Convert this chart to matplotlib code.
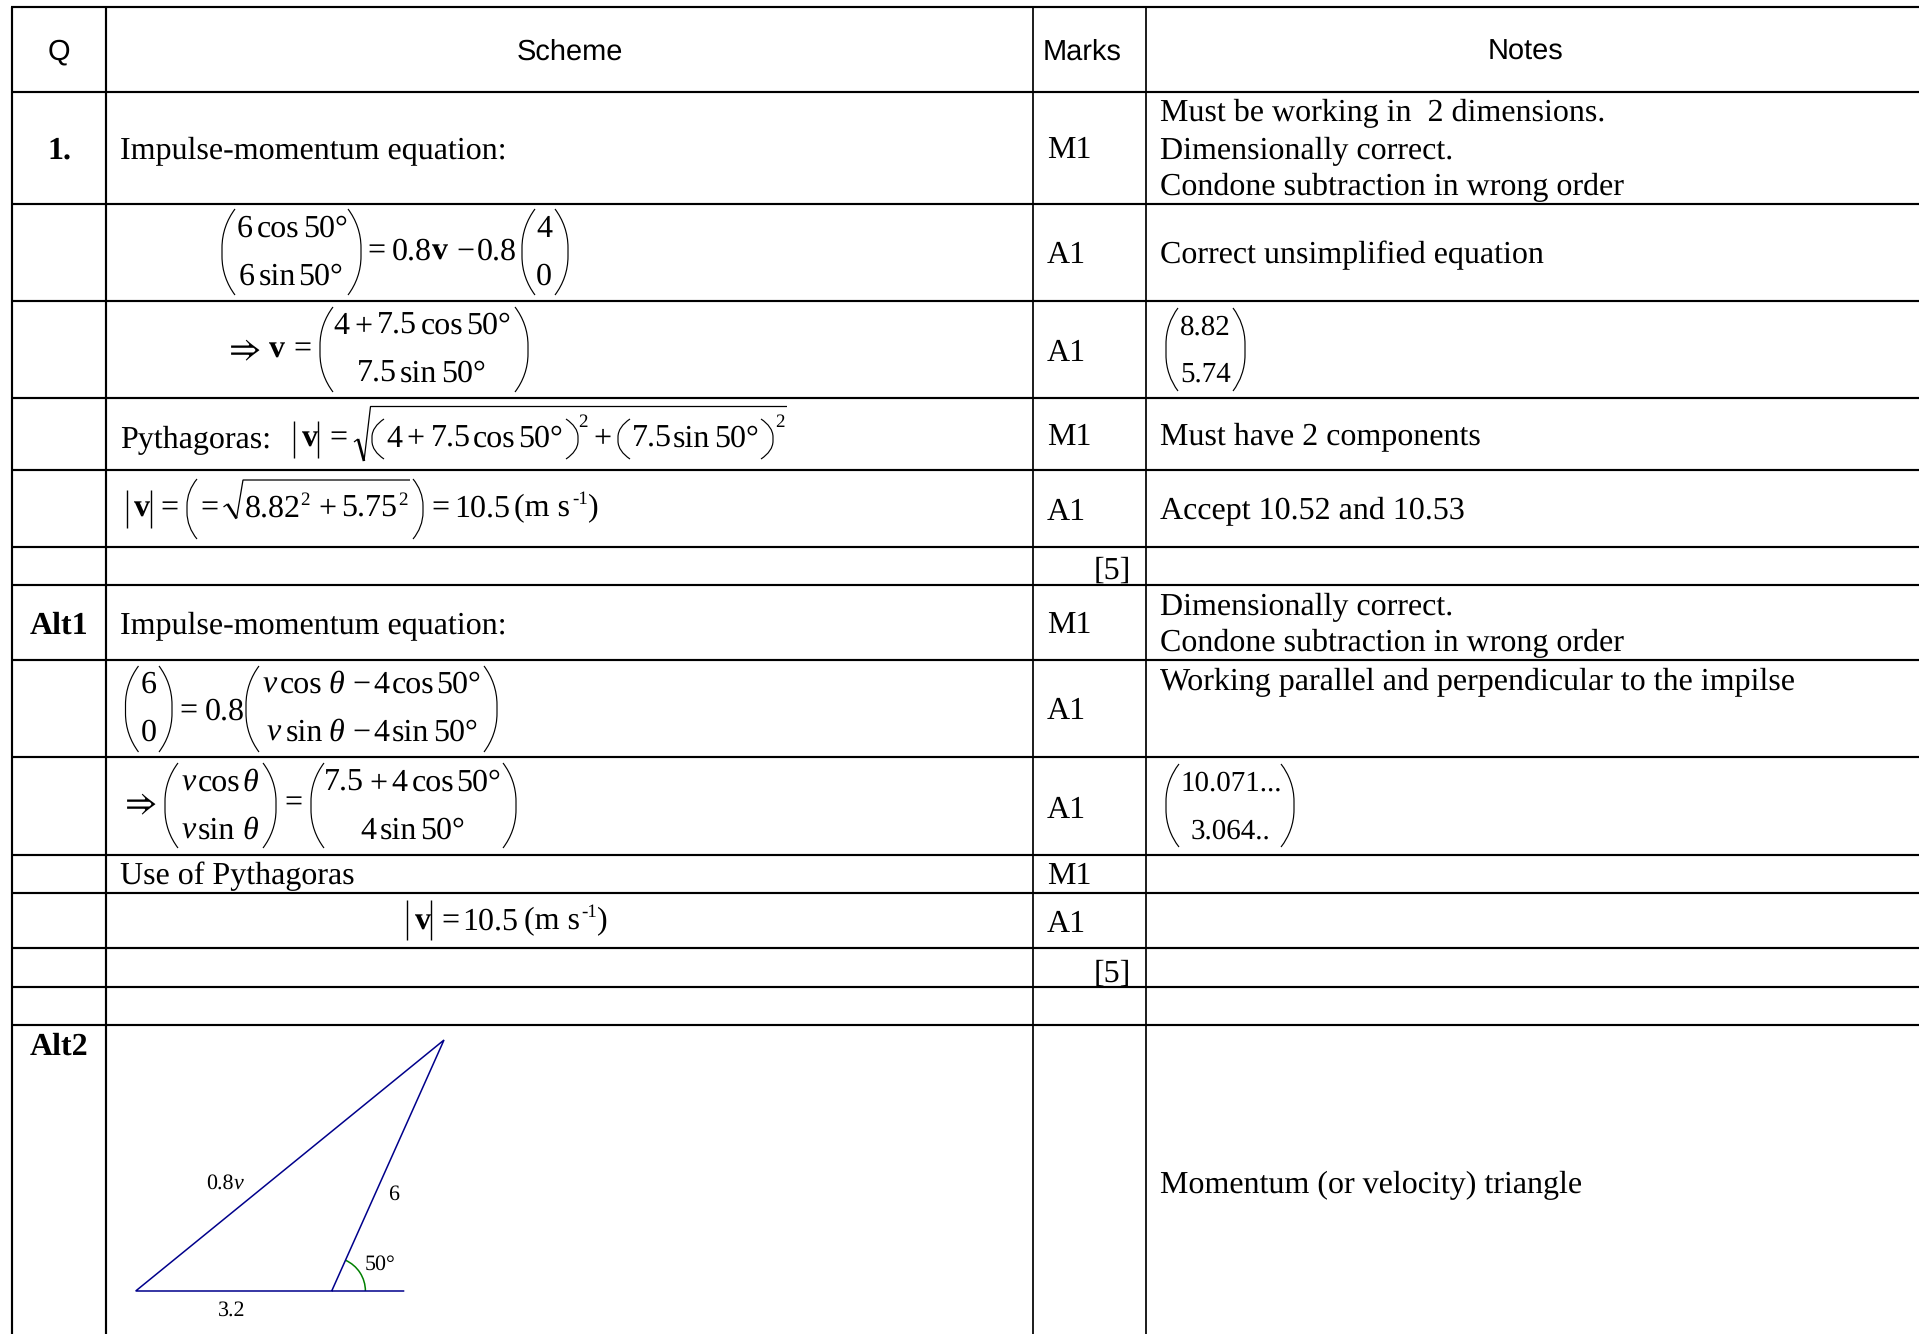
import matplotlib
matplotlib.use("Agg")
import numpy as np
import matplotlib.pyplot as plt
from matplotlib.path import Path
from matplotlib.patches import PathPatch, Arc

plt.rcParams["text.hinting"] = "none"
plt.rcParams["text.hinting_factor"] = 1

# ---- table content ----
HEADERS = ["Q", "Scheme", "Marks", "Notes"]
QUESTIONS = ["1.", "Alt1", "Alt2"]
MARKS = ["M1", "A1", "A1", "M1", "A1", "[5]", "M1", "A1", "A1", "M1", "A1", "[5]"]
NOTES = ["Must be working in  2 dimensions.", "Dimensionally correct.", "Condone subtraction in wrong order",
         "Correct unsimplified equation", "Must have 2 components", "Accept 10.52 and 10.53",
         "Dimensionally correct.", "Condone subtraction in wrong order",
         "Working parallel and perpendicular to the impilse", "Momentum (or velocity) triangle"]
SCHEME_TEXT = ["Impulse-momentum equation:", "Pythagoras:", "Impulse-momentum equation:", "Use of Pythagoras"]
NOTE_VECTORS = [["8.82", "5.74"], ["10.071...", "3.064.."]]
TRIANGLE_LABELS = ["0.8", "v", "6", "50°", "3.2"]

# ---- layout ----
ROW_Y = [7, 92, 203.6, 300.8, 398, 469.6, 546.9, 584.6, 660, 756.7, 855, 892.7, 947.7, 986.7, 1025]
COL_X = [12, 106, 1033, 1145.6]
HEAD_X = [59, 569.5, 1082, 1526]
Q_BASE = [158.7, 634, 1055]
MARK_BASE = [158, 263, 361, 445, 519.6, 578.5, 632.7, 719, 817.7, 884, 931.7, 981.5]
NOTE_BASE = [121.5, 158.7, 195, 263, 445, 519.6, 615.3, 651, 690, 1193]
TEXT_BASE = [158.7, 447.6, 634, 884]

BODY = ["Liberation Serif", "DejaVu Serif"]
FS = 23.04
VEC_FS = 20.8
SUP = 13.4
W, H = 1919, 1334

fig = plt.figure(figsize=(W / 100, H / 100), dpi=100)
ax = fig.add_axes([0, 0, 1, 1])
ax.set_xlim(0, W)
ax.set_ylim(H, 0)
ax.axis("off")


def t(x, y, s, size=FS, ha="left", weight="normal", style="normal", color="black", family=BODY):
    ax.text(x, y, s, fontsize=size, ha=ha, va="baseline", fontweight=weight, fontstyle=style,
            color=color, family=family)


def line(xs, ys, lw=1.0, color="black"):
    ax.plot(xs, ys, color=color, lw=lw, solid_capstyle="butt", solid_joinstyle="miter")


def paren(x0, x1, y0, y1, side="l", lw=0.85):
    """Tall bracket; x0..x1 is its horizontal extent."""
    w = x1 - x0
    c = min(3.0 * w, (y1 - y0) * 0.45)
    a, b = (x1, x0) if side == "l" else (x0, x1)
    verts = [(a, y0), (a + (b - a) * 0.62, y0 + c * 0.28), (b, y0 + c * 0.62), (b, y0 + c),
             (b, y1 - c),
             (b, y1 - c * 0.62), (a + (b - a) * 0.62, y1 - c * 0.28), (a, y1)]
    codes = [Path.MOVETO, Path.CURVE4, Path.CURVE4, Path.CURVE4, Path.LINETO,
             Path.CURVE4, Path.CURVE4, Path.CURVE4]
    ax.add_patch(PathPatch(Path(verts, codes), fill=False, lw=lw, ec="black", capstyle="butt"))


def pieces(y, items):
    for it in items:
        x, s = it[0], it[1]
        kind = it[2] if len(it) > 2 else ""
        if kind == "b":
            t(x, y, s, weight="bold")
        elif kind == "i":
            t(x, y, s, style="italic")
        elif kind == "a":
            t(x, y, s, size=25, family=["STIXGeneral"])
        else:
            t(x, y, s)


def sqrt_sign(x0, xm, xe, ytop, ybot, ymid):
    line([x0, x0 + 4], [ymid + 2, ymid - 1], lw=0.9)
    line([x0 + 4, xm - 6.5], [ymid - 1, ybot], lw=1.9)
    line([xm - 6.5, xm, xe], [ybot, ytop, ytop], lw=0.9)


# grid
for y in ROW_Y:
    line([COL_X[0] - 1, W], [y, y], lw=1.55)
for i, x in enumerate(COL_X):
    line([x, x], [ROW_Y[0], H], lw=1.55 if i < 2 else 1.25)

# headers
for x, s in zip(HEAD_X, HEADERS):
    t(x, 59.5, s, size=21.1, ha="center", family=["Liberation Sans"])

# plain text
for s, y in zip(QUESTIONS, Q_BASE):
    t(59, y, s, ha="center", weight="bold")
for s, y in zip(MARKS, MARK_BASE):
    if s.startswith("["):
        t(1130.5, y, s, ha="right")
    else:
        t(1047, y, s)
for s, y in zip(NOTES, NOTE_BASE):
    t(1160.5, y, s)
for s, y in zip(SCHEME_TEXT, TEXT_BASE):
    t(120.5, y, s)

# row 2
paren(222, 235, 209, 295, "l")
pieces(237, [(236.5, "6"), (256.5, "cos"), (303, "50°")])
pieces(285, [(239, "6"), (258.5, "sin"), (298, "50°")])
paren(348, 361, 209, 295, "r")
pieces(260, [(367, "="), (392, "0.8"), (432, "v", "b"), (456, "−"), (477, "0.8")])
paren(522, 535, 209, 295, "l")
pieces(237, [(536, "4")])
pieces(285, [(536, "0")])
paren(555, 568, 209, 295, "r")

# row 3
pieces(358, [(229, "⇒", "a"), (269, "v", "b"), (293, "=")])
paren(320, 333, 307, 392, "l")
pieces(334, [(333.5, "4"), (354.5, "+"), (376.5, "7.5"), (420.5, "cos"), (466, "50°")])
pieces(382, [(357, "7.5"), (400, "sin"), (441, "50°")])
paren(515, 528, 307, 392, "r")
paren(1166, 1178, 308, 391, "l")
t(1180, 335, NOTE_VECTORS[0][0], size=VEC_FS)
t(1180, 382, NOTE_VECTORS[0][1], size=VEC_FS)
paren(1233, 1245, 308, 391, "r")

# row 4
line([294, 294], [421, 458])
pieces(446.6, [(302, "v", "b"), (329.5, "=")])
line([318.4, 318.4], [421, 458])
sqrt_sign(354, 370.5, 787, 406.5, 461, 440)
paren(372, 384, 419, 459, "l")
pieces(446.6, [(386, "4"), (406.5, "+"), (431, "7.5"), (472.5, "cos"), (518.5, "50°"),
               (593, "+"), (632, "7.5"), (673, "sin"), (714.5, "50°")])
paren(566, 578, 419, 459, "r")
paren(618, 630, 419, 459, "l")
paren(761, 773, 419, 459, "r")
t(578.5, 427, "2", size=SUP)
t(775, 427, "2", size=SUP)

# row 5
line([126.8, 126.8], [490, 528])
line([151, 151], [490, 528])
pieces(516.6, [(133.5, "v", "b"), (160.4, "="), (200, "="), (245, "8.82"), (318.4, "+"), (341, "5.75"),
               (431, "="), (454.5, "10.5"), (514, "(m s"), (588, ")")])
paren(187, 197, 479, 539, "l")
sqrt_sign(223.5, 243, 410, 480, 518.5, 505)
t(300, 505, "2", size=SUP)
t(398, 505, "2", size=SUP)
paren(413, 423, 479, 539, "r")
t(572, 504, "-1", size=SUP)

# row 8
paren(125.5, 138.5, 666, 752, "l")
pieces(693, [(141, "6")])
pieces(741, [(141, "0")])
paren(159, 172, 666, 752, "r")
pieces(720, [(179.4, "="), (205, "0.8")])
paren(246, 259, 666, 752, "l")
pieces(693, [(263, "v", "i"), (280, "cos"), (328, "θ", "i"), (352, "−"), (373, "4"), (392, "cos"), (436, "50°")])
pieces(741, [(267, "v", "i"), (286, "sin"), (328, "θ", "i"), (352, "−"), (373, "4"), (392, "sin"), (433.6, "50°")])
paren(484, 497, 666, 752, "r")

# row 9
pieces(812, [(124.5, "⇒", "a"), (284.7, "=")])
paren(165, 178, 763, 848, "l")
pieces(790.7, [(182, "v", "i"), (198, "cos"), (242.5, "θ", "i")])
pieces(839, [(182, "v", "i"), (198, "sin"), (242.5, "θ", "i")])
paren(263, 276, 763, 848, "r")
paren(311, 324, 763, 848, "l")
pieces(790.7, [(324, "7.5"), (369, "+"), (391.5, "4"), (411.5, "cos"), (456, "50°")])
pieces(839, [(360.5, "4"), (379.5, "sin"), (420.5, "50°")])
paren(503, 516, 763, 848, "r")
paren(1166, 1179, 764, 847, "l")
t(1180, 790.7, NOTE_VECTORS[1][0], size=VEC_FS)
t(1190.5, 839, NOTE_VECTORS[1][1], size=VEC_FS)
paren(1281, 1294, 764, 847, "r")

# row 11
line([406.6, 406.6], [900, 940])
line([430.5, 430.5], [900, 940])
pieces(929.5, [(414.6, "v", "b"), (441, "="), (462.5, "10.5"), (524, "(m s"), (597, ")")])
t(581, 917, "-1", size=SUP)

# triangle
TRI_X = [404.3, 135.7, 444, 331.7]
TRI_Y = [1291, 1291, 1040, 1291]
ax.plot(TRI_X, TRI_Y, color="#00008b", lw=1.1, solid_joinstyle="miter", solid_capstyle="butt")
ax.add_patch(Arc((331.7, 1291), 67.4, 67.4, angle=0, theta1=294, theta2=360, ec="#008000", lw=1.1))
TS = 16.2
t(206.5, 1189, TRIANGLE_LABELS[0], size=TS)
t(234, 1189, TRIANGLE_LABELS[1], size=TS, style="italic")
t(388, 1199.5, TRIANGLE_LABELS[2], size=TS)
t(365, 1270, TRIANGLE_LABELS[3], size=TS)
t(218, 1316, TRIANGLE_LABELS[4], size=TS)

fig.savefig("out.png", dpi=100, facecolor="white")
